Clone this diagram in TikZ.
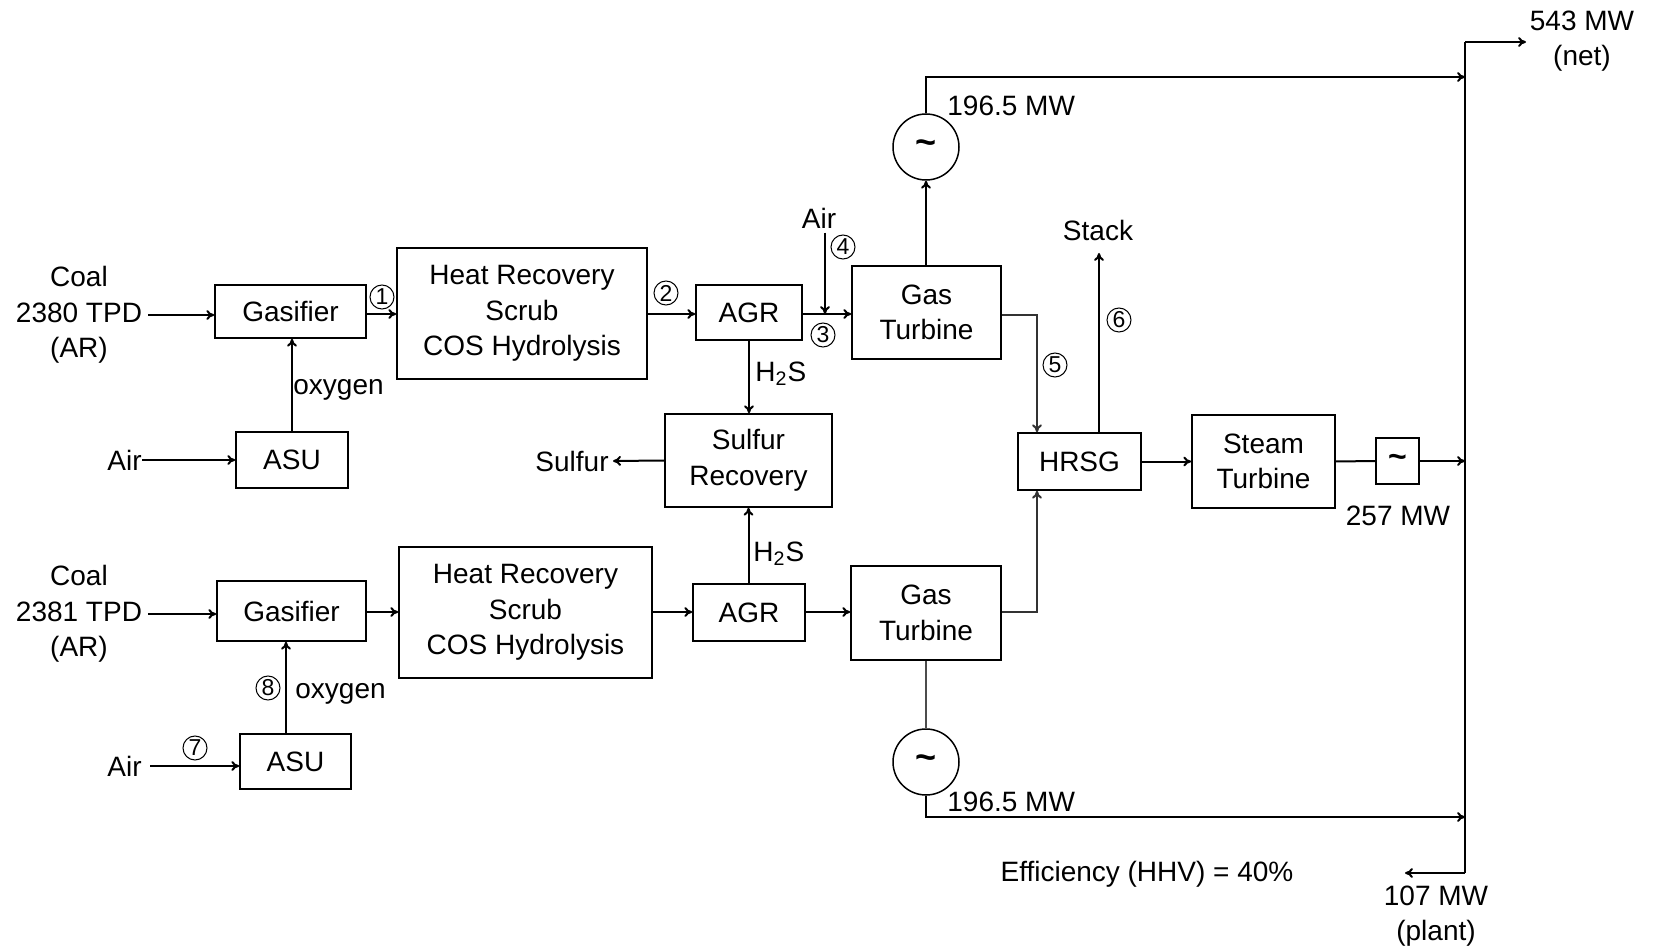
\documentclass[tikz,border=0pt]{standalone}
\usepackage{fontspec}
\setmainfont{Liberation Sans}
\usetikzlibrary{arrows.meta}
\begin{document}
\begin{tikzpicture}[x=0.5pt, y=-0.5pt,
  font=\fontsize{14}{17.75}\selectfont,
  box/.style={draw, line width=0.75pt, inner sep=0pt, align=center},
  flow/.style={line width=1pt, -{To[length=4pt,width=5pt]}},
  plain/.style={line width=1pt},
  thinline/.style={line width=0.6pt, draw=black!70},
  num/.style={circle, draw, line width=0.5pt, inner sep=0pt, minimum size=12pt, font=\fontsize{11.5}{11.5}\selectfont},
  lbl/.style={inner sep=0pt, align=center},
  gen/.style={circle, draw, line width=0.75pt, minimum size=33pt, inner sep=0pt, font=\fontsize{18}{18}\selectfont\bfseries}]
\useasboundingbox (0,0) rectangle (1656,952);

% ---------- top train ----------
\node[lbl] (coal1) at (79,315) {Coal\\2380 TPD\\(AR)};
\node[box, minimum width=75.5pt, minimum height=26.5pt] (gas1) at (290.5,311.5) {Gasifier};
\node[box, minimum width=56pt, minimum height=28pt] (asu1) at (292,460) {ASU};
\node[lbl, anchor=east] (air1) at (142,460) {Air};
\node[box, minimum width=125pt, minimum height=65.5pt] (hr1) at (522,313.5) {Heat Recovery\\Scrub\\COS Hydrolysis};
\node[box, minimum width=53pt, minimum height=27.5pt] (agr1) at (749,312.5) {AGR};
\node[box, minimum width=74.5pt, minimum height=46.5pt] (gt1) at (926.5,312.5) {Gas\\Turbine};
\node[gen] (gen1) at (926,147) {\textasciitilde};

% ---------- sulfur ----------
\node[box, minimum width=83.5pt, minimum height=46.5pt] (sr) at (748.5,460.5) {Sulfur\\Recovery};
\node[lbl, anchor=east] (sulfur) at (609,461) {Sulfur};

% ---------- bottom train ----------
\node[lbl] (coal2) at (79,614) {Coal\\2381 TPD\\(AR)};
\node[box, minimum width=74.5pt, minimum height=30pt] (gas2) at (291.5,611) {Gasifier};
\node[box, minimum width=55.5pt, minimum height=27.5pt] (asu2) at (295.5,761.5) {ASU};
\node[lbl, anchor=east] (air2) at (142,766) {Air};
\node[box, minimum width=126.5pt, minimum height=65.5pt] (hr2) at (525.5,612.5) {Heat Recovery\\Scrub\\COS Hydrolysis};
\node[box, minimum width=56pt, minimum height=28.5pt] (agr2) at (749,612.5) {AGR};
\node[box, minimum width=75pt, minimum height=47pt] (gt2) at (926,613) {Gas\\Turbine};
\node[gen] (gen2) at (926,762) {\textasciitilde};

% ---------- steam cycle ----------
\node[box, minimum width=61.5pt, minimum height=28.5pt] (hrsg) at (1079.5,461.5) {HRSG};
\node[box, minimum width=71.5pt, minimum height=46.5pt] (st) at (1263.5,461.5) {Steam\\Turbine};
\node[box, minimum width=21.5pt, minimum height=23pt, font=\fontsize{16}{16}\selectfont\bfseries] (gen3) at (1397.5,461) {\textasciitilde};

% ---------- coordinates ----------
\coordinate (bt) at (1465,42);
\coordinate (bb) at (1465,873);
\coordinate (netend) at (1526,42);
\coordinate (plantend) at (1405,873);
\coordinate (g1c) at (926,77);
\coordinate (g2c) at (926,817);
\coordinate (k1) at (1037,315);
\coordinate (k2) at (1037,612);
\coordinate (stk) at (1099,253);
\coordinate (j4) at (825,314);
\coordinate (ytop) at (0,314);
\coordinate (ybot) at (0,612);

% ---------- connectors: top ----------
\draw[flow] ([xshift=3pt]coal1.east) -- (coal1.east -| gas1.west);
\draw[flow] (air1.east) -- (air1.east -| asu1.west);
\draw[flow] (asu1.north) -- (asu1.north |- gas1.south);
\draw[flow] (gas1.east |- ytop) -- (hr1.west |- ytop);
\draw[flow] (hr1.east |- ytop) -- (agr1.west |- ytop);
\draw[flow] (agr1.east |- ytop) -- (gt1.west |- ytop);
\node[lbl] (air4) at (819,218) {Air};
\draw[flow] ([yshift=-2pt]j4 |- air4.south) -- (j4);
\draw[flow] (gt1.north -| gen1) -- (gen1.south);
\draw[flow] (gen1.north) -- (g1c) -- (g1c -| bt);
\draw[flow] (agr1.south) -- (agr1.south |- sr.north);
\draw[flow] (sr.west) -- ([xshift=2pt]sulfur.east);

% ---------- connectors: bottom ----------
\draw[flow] ([xshift=3pt]coal2.east) -- (coal2.east -| gas2.west);
\draw[flow] ([xshift=4pt]air2.east) -- (air2.east -| asu2.west);
\draw[flow] (asu2.north -| 286,0) -- (gas2.south -| 286,0);
\draw[flow] (gas2.east |- ybot) -- (hr2.west |- ybot);
\draw[flow] (hr2.east |- ybot) -- (agr2.west |- ybot);
\draw[flow] (agr2.east |- ybot) -- (gt2.west |- ybot);
\draw[flow] (agr2.north -| sr.south) -- (sr.south);
\draw[thinline] (gt2.south) -- (gen2.north);
\draw[flow] (gen2.south) -- (g2c) -- (g2c -| bt);

% ---------- connectors: steam cycle ----------
\draw[flow, draw=black!80] (gt1.east |- k1) -- (k1) -- (k1 |- hrsg.north);
\draw[flow, draw=black!80] (gt2.east |- k2) -- (k2) -- (k2 |- hrsg.south);
\draw[flow] (stk |- hrsg.north) -- (stk);
\draw[flow] (hrsg.east) -- (st.west);
\draw[plain] (st.east) -- (gen3.west);
\draw[flow] (gen3.east) -- (gen3.east -| bt);

% ---------- power bus ----------
\draw[plain] (bt) -- (bb);
\draw[flow] (bt) -- (netend);
\draw[flow] (bb) -- (plantend);

% ---------- labels ----------
\node[lbl] at (1098,230) {Stack};
\node[lbl, anchor=west] at (293,390) {oxygen};
\node[lbl, anchor=west] at (295,694) {oxygen};
\node[lbl, anchor=west] at (755,374) {H\textsubscript{2}S};
\node[lbl, anchor=west] at (753,554) {H\textsubscript{2}S};
\node[lbl, anchor=west] at (947,106) {196.5 MW};
\node[lbl, anchor=west] at (947,802) {196.5 MW};
\node[lbl] at (1398,516) {257 MW};
\node[lbl] at (1582,41) {543 MW\\(net)};
\node[lbl] at (1436,916) {107 MW\\(plant)};
\node[lbl] at (1147,874) {Efficiency (HHV) = 40\%};

\node[num] at (382,297) {1};
\node[num] at (666,293) {2};
\node[num] at (823,335) {3};
\node[num] at (843,247) {4};
\node[num] at (1055,365) {5};
\node[num] at (1119,320) {6};
\node[num] at (195,748) {7};
\node[num] at (268,688) {8};
\end{tikzpicture}
\end{document}
